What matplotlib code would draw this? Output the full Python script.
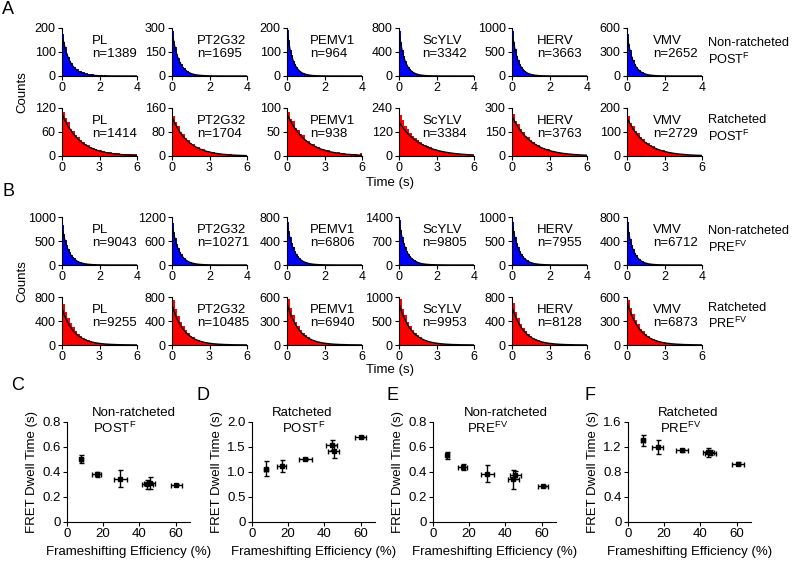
import matplotlib
matplotlib.use("Agg")
import matplotlib.pyplot as plt
import numpy as np

plt.rcParams['font.family'] = ['Liberation Sans', 'DejaVu Sans']
plt.rcParams['mathtext.fontset'] = 'custom'
plt.rcParams['mathtext.rm'] = 'Liberation Sans'
plt.rcParams['mathtext.it'] = 'Liberation Sans:italic'
plt.rcParams['font.size'] = 9

constructs = ["PL", "PT2G32", "PEMV1", "ScYLV", "HERV", "VMV"]

# ---- Histogram rows ----
# Row A top: non-ratcheted POST^F (bin 0.08 s)
A_top_n = [1389, 1695, 964, 3342, 3663, 2652]
A_top_ymax = [200, 300, 200, 800, 1000, 600]
A_top_counts = [
    [175, 140, 120, 93, 81, 63, 56, 43, 39, 30, 28, 22, 21, 16, 15, 12, 12, 9, 9, 7, 8, 5, 6, 4, 4, 5, 3, 2, 3, 2, 1, 2, 1, 1, 1],
    [282, 220, 180, 138, 115, 86, 73, 55, 47, 35, 31, 22, 20, 14, 13, 9, 9, 6, 6, 4, 5, 3, 3, 2, 3, 2, 1, 2, 1, 1, 1, 1, 0, 1, 0],
    [192, 150, 108, 88, 63, 52, 36, 31, 21, 18, 12, 11, 7, 7, 4, 5, 3, 3, 2, 2, 1, 2, 1, 1, 1, 0, 1, 0, 1, 0, 0, 1, 0, 0, 0],
    [745, 560, 440, 328, 258, 190, 152, 110, 90, 64, 53, 37, 31, 22, 19, 13, 11, 8, 7, 5, 4, 4, 3, 2, 2, 1, 1, 1, 1, 0, 1, 0, 0, 0, 0],
    [945, 712, 556, 418, 327, 243, 192, 141, 114, 82, 67, 48, 39, 28, 23, 16, 14, 10, 8, 6, 5, 4, 3, 3, 2, 2, 1, 1, 1, 1, 0, 1, 0, 0, 0],
    [525, 400, 320, 242, 195, 146, 118, 88, 73, 53, 44, 32, 27, 19, 17, 12, 10, 8, 6, 5, 4, 3, 3, 2, 2, 1, 1, 1, 1, 1, 0, 1, 0, 0, 0],
]
A_top_fitA = [175, 280, 190, 740, 940, 520]
A_top_fitTau = [0.40, 0.35, 0.30, 0.30, 0.30, 0.32]

# Row A bottom: ratcheted POST^F (bin 0.2 s)
A_bot_n = [1414, 1704, 938, 3384, 3763, 2729]
A_bot_ymax = [120, 160, 100, 240, 300, 200]
A_bot_counts = [
    [110, 96, 84, 68, 63, 52, 48, 39, 36, 31, 27, 22, 21, 17, 16, 14, 12, 11, 10, 9, 8, 8, 7, 6, 6, 5, 6, 5, 4, 5],
    [134, 112, 99, 81, 73, 59, 54, 43, 40, 31, 29, 23, 22, 17, 16, 13, 12, 10, 9, 8, 7, 7, 6, 6, 5, 5, 4, 5, 4, 4],
    [92, 78, 72, 59, 55, 45, 43, 34, 32, 26, 25, 20, 19, 15, 15, 11, 12, 9, 9, 7, 8, 6, 6, 5, 5, 4, 5, 4, 3, 6],
    [205, 180, 150, 135, 115, 102, 92, 78, 72, 60, 56, 48, 44, 37, 34, 29, 27, 22, 21, 18, 17, 14, 13, 11, 11, 9, 9, 8, 7, 6],
    [262, 220, 200, 168, 153, 128, 118, 98, 90, 75, 69, 57, 53, 44, 41, 34, 31, 26, 24, 20, 19, 16, 15, 12, 12, 10, 9, 8, 7, 6],
    [168, 139, 125, 103, 94, 78, 71, 58, 54, 44, 40, 33, 30, 25, 23, 18, 17, 14, 13, 11, 10, 9, 8, 7, 6, 6, 5, 5, 4, 4],
]
A_bot_fitA = [106, 130, 88, 170, 250, 160]
A_bot_fitTau = [1.4, 1.3, 1.5, 1.7, 1.5, 1.4]

# Row B top: non-ratcheted PRE^FV (bin 0.08 s)
B_top_n = [9043, 10271, 6806, 9805, 7955, 6712]
B_top_ymax = [1000, 1200, 800, 1400, 1000, 800]
B_top_counts = [
    [835, 655, 530, 415, 337, 262, 214, 165, 136, 105, 87, 66, 55, 42, 35, 26, 22, 17, 14, 11, 9, 7, 6, 4, 4, 3, 2, 2, 1, 1, 1, 1, 0, 1, 0],
    [1055, 830, 670, 525, 425, 331, 270, 210, 172, 132, 109, 84, 69, 53, 44, 33, 28, 21, 18, 13, 11, 9, 7, 5, 5, 3, 3, 2, 2, 1, 1, 1, 1, 0, 0],
    [725, 568, 460, 360, 292, 227, 186, 143, 118, 90, 75, 57, 47, 36, 30, 23, 19, 14, 12, 9, 8, 6, 5, 4, 3, 2, 2, 2, 1, 1, 1, 0, 1, 0, 0],
    [1305, 1028, 830, 650, 526, 411, 335, 260, 212, 164, 135, 104, 86, 66, 54, 41, 35, 26, 22, 16, 14, 10, 9, 6, 5, 4, 3, 3, 2, 2, 1, 1, 1, 1, 0],
    [905, 710, 575, 450, 365, 284, 232, 179, 147, 113, 94, 72, 59, 45, 38, 28, 24, 18, 15, 11, 10, 7, 6, 5, 4, 3, 2, 2, 2, 1, 1, 1, 0, 1, 0],
    [725, 556, 441, 336, 268, 203, 163, 122, 100, 74, 61, 45, 37, 27, 23, 16, 14, 10, 8, 6, 5, 4, 3, 2, 2, 2, 1, 1, 1, 0, 1, 0, 0, 0, 0],
]
B_top_fitA = [800, 1020, 700, 1280, 880, 700]
B_top_fitTau = [0.35, 0.35, 0.35, 0.35, 0.35, 0.32]

# Row B bottom: ratcheted PRE^FV (bin 0.2 s)
B_bot_n = [9255, 10485, 6940, 9953, 8128, 6873]
B_bot_ymax = [800, 800, 600, 1000, 800, 600]
B_bot_counts = [
    [685, 555, 455, 360, 296, 230, 190, 147, 122, 94, 79, 60, 51, 39, 33, 25, 22, 16, 14, 11, 9, 8, 6, 5, 4, 4, 3, 2, 2, 2],
    [748, 595, 490, 384, 316, 246, 203, 157, 131, 100, 84, 64, 54, 41, 35, 26, 23, 17, 14, 11, 10, 7, 6, 5, 4, 3, 3, 2, 2, 2],
    [575, 458, 374, 293, 241, 188, 156, 120, 100, 77, 65, 50, 42, 32, 27, 20, 17, 13, 11, 9, 7, 6, 5, 4, 3, 3, 2, 2, 1, 1],
    [965, 755, 620, 488, 398, 312, 256, 200, 165, 127, 106, 82, 68, 53, 44, 33, 29, 22, 18, 14, 12, 9, 7, 6, 5, 4, 3, 3, 2, 2],
    [695, 546, 449, 353, 289, 226, 187, 144, 120, 93, 78, 60, 50, 38, 32, 24, 21, 16, 13, 10, 9, 7, 6, 4, 4, 3, 2, 2, 2, 1],
    [565, 460, 385, 308, 259, 206, 174, 137, 117, 92, 79, 62, 53, 41, 36, 27, 24, 18, 16, 13, 11, 9, 7, 6, 5, 4, 4, 3, 2, 2],
]
B_bot_fitA = [610, 670, 520, 870, 635, 540]
B_bot_fitTau = [0.95, 0.95, 0.95, 0.95, 0.95, 1.0]

# ---- Scatter panels C-F: frameshifting efficiency (%) vs FRET dwell time (s) ----
C_x = [8.0, 16.5, 29.5, 44.5, 45.8, 60.5]
C_y = [0.50, 0.38, 0.345, 0.30, 0.31, 0.295]
C_xerr = [1.0, 2.5, 3.5, 3.0, 3.0, 3.0]
C_yerr = [0.03, 0.02, 0.065, 0.035, 0.05, 0.005]

D_x = [7.7, 16.5, 29.5, 44.0, 45.2, 60.0]
D_y = [1.06, 1.12, 1.25, 1.53, 1.41, 1.70]
D_xerr = [1.0, 2.5, 3.5, 3.0, 3.0, 3.3]
D_yerr = [0.15, 0.12, 0.02, 0.10, 0.13, 0.02]

E_x = [8.0, 16.5, 30.0, 44.5, 45.5, 60.8]
E_y = [0.53, 0.44, 0.385, 0.34, 0.375, 0.285]
E_xerr = [1.0, 2.5, 3.5, 3.0, 3.0, 3.0]
E_yerr = [0.03, 0.025, 0.065, 0.075, 0.03, 0.005]

F_x = [8.3, 16.5, 30.0, 44.3, 45.5, 60.7]
F_y = [1.30, 1.20, 1.14, 1.11, 1.10, 0.93]
F_xerr = [1.0, 3.0, 3.3, 3.0, 3.0, 3.3]
F_yerr = [0.09, 0.11, 0.02, 0.07, 0.04, 0.02]

W, H = 792, 561
fig = plt.figure(figsize=(W / 100, H / 100), dpi=100)


def rect(x0, ytop, w, h):
    return [x0 / W, 1 - (ytop + h) / H, w / W, h / H]


def style(ax):
    for s in ["top", "right"]:
        ax.spines[s].set_visible(False)
    for s in ["left", "bottom"]:
        ax.spines[s].set_linewidth(0.8)
    ax.tick_params(direction="out", length=3, width=0.8, labelsize=9, pad=1.5)


def ftext(x, y, s, **kw):
    fig.text(x / W, 1 - y / H, s, **kw)


col_left = [62, 172, 287, 399, 512, 627]
name_x = [0.40, 0.33, 0.31, 0.31, 0.33, 0.35]
hist_w = 75

rows = [
    (28, 48, A_top_counts, A_top_ymax, A_top_n, A_top_fitA, A_top_fitTau, 0.08, 4, [0, 2, 4], "#0000FF"),
    (108, 48, A_bot_counts, A_bot_ymax, A_bot_n, A_bot_fitA, A_bot_fitTau, 0.2, 6, [0, 3, 6], "#FF0000"),
    (217, 48, B_top_counts, B_top_ymax, B_top_n, B_top_fitA, B_top_fitTau, 0.08, 4, [0, 2, 4], "#0000FF"),
    (297, 48, B_bot_counts, B_bot_ymax, B_bot_n, B_bot_fitA, B_bot_fitTau, 0.2, 6, [0, 3, 6], "#FF0000"),
]

for (ytop, h, counts, ymaxs, ns, fA, fT, bw, xmax, xt, color) in rows:
    for i in range(6):
        ax = fig.add_axes(rect(col_left[i], ytop, hist_w, h))
        c = counts[i]
        edges = np.arange(len(c)) * bw
        ax.bar(edges, c, width=bw, align="edge", color=color, linewidth=0)
        t = np.linspace(0, xmax, 200)
        ax.plot(t, fA[i] * np.exp(-t / fT[i]), color="black", lw=1.0)
        ax.set_xlim(0, xmax)
        ax.set_ylim(0, ymaxs[i])
        ax.set_xticks(xt)
        ax.set_yticks([0, ymaxs[i] // 2, ymaxs[i]])
        style(ax)
        ax.text(name_x[i], 0.73, constructs[i], transform=ax.transAxes, fontsize=9.5,
                ha="left", va="center")
        ax.text(name_x[i], 0.46, "n=%d" % ns[i], transform=ax.transAxes, fontsize=9.5,
                ha="left", va="center")

# right side labels
rx = 708
rfs = 9.2
ftext(rx, 43, "Non-ratcheted", fontsize=rfs, va="center")
ftext(rx, 59, r"POST$^{\mathrm{F}}$", fontsize=rfs, va="center")
ftext(rx, 120, "Ratcheted", fontsize=rfs, va="center")
ftext(rx, 136, r"POST$^{\mathrm{F}}$", fontsize=rfs, va="center")
ftext(rx, 231, "Non-ratcheted", fontsize=rfs, va="center")
ftext(rx, 247, r"PRE$^{\mathrm{FV}}$", fontsize=rfs, va="center")
ftext(rx, 308, "Ratcheted", fontsize=rfs, va="center")
ftext(rx, 323, r"PRE$^{\mathrm{FV}}$", fontsize=rfs, va="center")

ftext(22, 92, "Counts", rotation=90, fontsize=9.5, ha="center", va="center")
ftext(22, 281, "Counts", rotation=90, fontsize=9.5, ha="center", va="center")
ftext(390, 183, "Time (s)", fontsize=9.5, ha="center", va="center")
ftext(390, 370, "Time (s)", fontsize=9.5, ha="center", va="center")

ftext(8, 9, "A", fontsize=13, ha="center", va="center")
ftext(8, 192, "B", fontsize=13, ha="center", va="center")

# ---- scatter panels ----
sc = [
    ("C", 67, C_x, C_y, C_xerr, C_yerr, 0.8, [0, 0.2, 0.4, 0.6, 0.8], ["0", "0.2", "0.4", "0.6", "0.8"],
     "Non-ratcheted", r"POST$^{\mathrm{F}}$", 92, 93, 18, 386),
    ("D", 252, D_x, D_y, D_xerr, D_yerr, 2.0, [0, 0.5, 1.0, 1.5, 2.0], ["0", "0.5", "1.0", "1.5", "2.0"],
     "Ratcheted", r"POST$^{\mathrm{F}}$", 272, 282, 203, 396),
    ("E", 433, E_x, E_y, E_xerr, E_yerr, 0.8, [0, 0.2, 0.4, 0.6, 0.8], ["0", "0.2", "0.4", "0.6", "0.8"],
     "Non-ratcheted", r"PRE$^{\mathrm{FV}}$", 464, 467, 393, 396),
    ("F", 628, F_x, F_y, F_xerr, F_yerr, 1.6, [0, 0.4, 0.8, 1.2, 1.6], ["0", "0.4", "0.8", "1.2", "1.6"],
     "Ratcheted", r"PRE$^{\mathrm{FV}}$", 658, 660, 590, 396),
]
for (lab, x0, xs, ys, xe, ye, ymax, yt, ytl, t1, t2, t1x, t2x, labx, laby) in sc:
    ax = fig.add_axes(rect(x0, 421.7, 123, 100))
    ax.errorbar(xs, ys, xerr=xe, yerr=ye, fmt="s", color="black", ms=3.2,
                elinewidth=1.0, capsize=1.8, capthick=1.0)
    ax.set_xlim(0, 68)
    ax.set_ylim(0, ymax)
    ax.set_xticks([0, 20, 40, 60])
    ax.set_yticks(yt)
    ax.set_yticklabels(ytl)
    style(ax)
    ax.tick_params(labelsize=9.5)
    ax.set_xlabel("Frameshifting Efficiency (%)", fontsize=9.5, labelpad=4)
    ax.set_ylabel("FRET Dwell Time (s)", fontsize=9.5, labelpad=3)
    ftext(t1x, 413, t1, fontsize=9.5, va="center")
    ftext(t2x, 428, t2, fontsize=9.5, va="center")
    ftext(labx, laby, lab, fontsize=13, ha="center", va="center")

fig.savefig("out.png", dpi=100)
